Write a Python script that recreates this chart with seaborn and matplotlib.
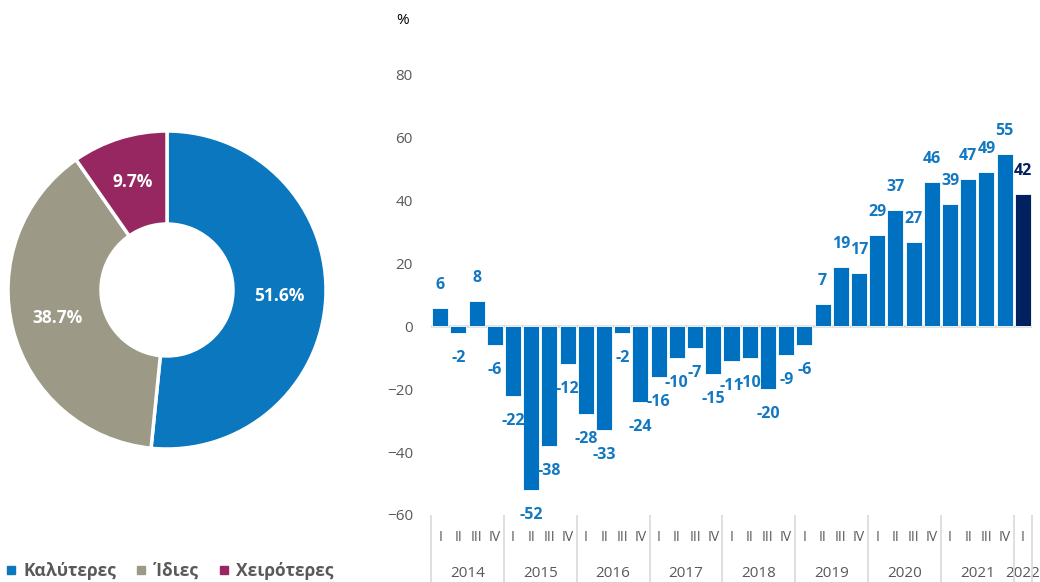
import numpy as np
import pandas as pd
import matplotlib
matplotlib.use("Agg")
import matplotlib.pyplot as plt
from matplotlib.lines import Line2D
import seaborn as sns

# ---------------- data ----------------
pie_labels = ["Καλύτερες", "Ίδιες", "Χειρότερες"]
pie_values = [51.6, 38.7, 9.7]
pie_colors = ["#0A77BE", "#9C9A87", "#962761"]

years = ["2014", "2015", "2016", "2017", "2018", "2019", "2020", "2021", "2022"]
quarters = ["I", "II", "III", "IV"]
balance = [6, -2, 8, -6,
           -22, -52, -38, -12,
           -28, -33, -2, -24,
           -16, -10, -7, -15,
           -11, -10, -20, -9,
           -6, 7, 19, 17,
           29, 37, 27, 46,
           39, 47, 49, 55,
           42]
quarter_labels = [quarters[i % 4] for i in range(len(balance))]
period = [f"{years[i // 4]} {quarter_labels[i]}" for i in range(len(balance))]

bar_color = "#0070C0"
last_color = "#002060"
label_color = "#1278C2"
grey_text = "#595959"
line_grey = "#D9D9D9"

# ---------------- style ----------------
sns.set_theme(style="white")
plt.rcParams["font.family"] = ["Open Sans", "DejaVu Sans"]

W, H = 1040, 582
fig = plt.figure(figsize=(W / 100, H / 100), dpi=100)

# ---------------- donut ----------------
cx, cy, r = 167, 290, 159
ax_p = fig.add_axes([(cx - r) / W, (H - cy - r) / H, 2 * r / W, 2 * r / H])
ax_p.pie(pie_values, colors=pie_colors, startangle=90, counterclock=False,
         wedgeprops=dict(width=0.585, edgecolor="white", linewidth=2.5),
         autopct="%.1f%%", pctdistance=0.71,
         textprops=dict(color="white", weight="bold", size=12.5))
ax_p.set_xlim(-1.0, 1.0)
ax_p.set_ylim(-1.0, 1.0)

# legend
handles = [Line2D([], [], marker="s", ls="", color=c, markersize=5.5) for c in pie_colors]
fig.legend(handles, pie_labels, loc="center left", bbox_to_anchor=(0.005, 1 - 571 / H),
           ncol=3, frameon=False, handlelength=0.7, handletextpad=0.35,
           columnspacing=1.1, borderpad=0, borderaxespad=0,
           prop=dict(weight="bold", size=12.5), labelcolor=grey_text)

# ---------------- bars ----------------
left, right, top, bottom = 431, 1032, 75, 515
ax = fig.add_axes([left / W, (H - bottom) / H, (right - left) / W, (bottom - top) / H])

df = pd.DataFrame({"period": period, "balance": balance})
palette = {p: (last_color if i == len(period) - 1 else bar_color) for i, p in enumerate(period)}
sns.barplot(data=df, x="period", y="balance", hue="period", palette=palette,
            order=period, legend=False, width=0.88, saturation=1,
            edgecolor="white", linewidth=0.6, ax=ax)

ax.set_xlim(-0.5, len(balance) - 0.5)
ax.set_ylim(-60, 80)
ax.set_yticks(np.arange(-60, 81, 20))
ax.tick_params(axis="y", length=0, pad=13, labelsize=11, labelcolor=grey_text)
ax.axhline(0, color=line_grey, lw=1.8, zorder=0.5)
for s in ax.spines.values():
    s.set_visible(False)
ax.set_xlabel("")
ax.set_ylabel("")

# quarter labels (major) and year labels (minor)
ax.xaxis.remove_overlapping_locs = False
ax.set_xticks(range(len(balance)))
ax.set_xticklabels(quarter_labels)
ax.tick_params(axis="x", which="major", length=0, pad=11, labelsize=10, labelcolor=grey_text)
year_centers = [min(4 * k + 1.5, len(balance) - 1) for k in range(len(years))]
ax.set_xticks(year_centers, minor=True)
ax.set_xticklabels(years, minor=True)
ax.tick_params(axis="x", which="minor", length=0, pad=37, labelsize=11, labelcolor=grey_text)

# year separators below the axis
seps = [4 * k - 0.5 for k in range(len(years))] + [len(balance) - 0.5]
ax.vlines(seps, -0.155, 0, transform=ax.get_xaxis_transform(), colors=line_grey,
          lw=1.2, clip_on=False)

# data labels
for i, v in enumerate(balance):
    col = last_color if i == len(balance) - 1 else label_color
    ax.annotate(f"{v}", (i, v), xytext=(0, 23 if v > 0 else -25),
                textcoords="offset pixels", ha="center", va="center",
                fontsize=11.5, fontweight="bold", color=col)

fig.text(403 / W, 1 - 20 / H, "%", ha="center", va="center", fontsize=11, color="black")

fig.savefig("out.png", dpi=100)
